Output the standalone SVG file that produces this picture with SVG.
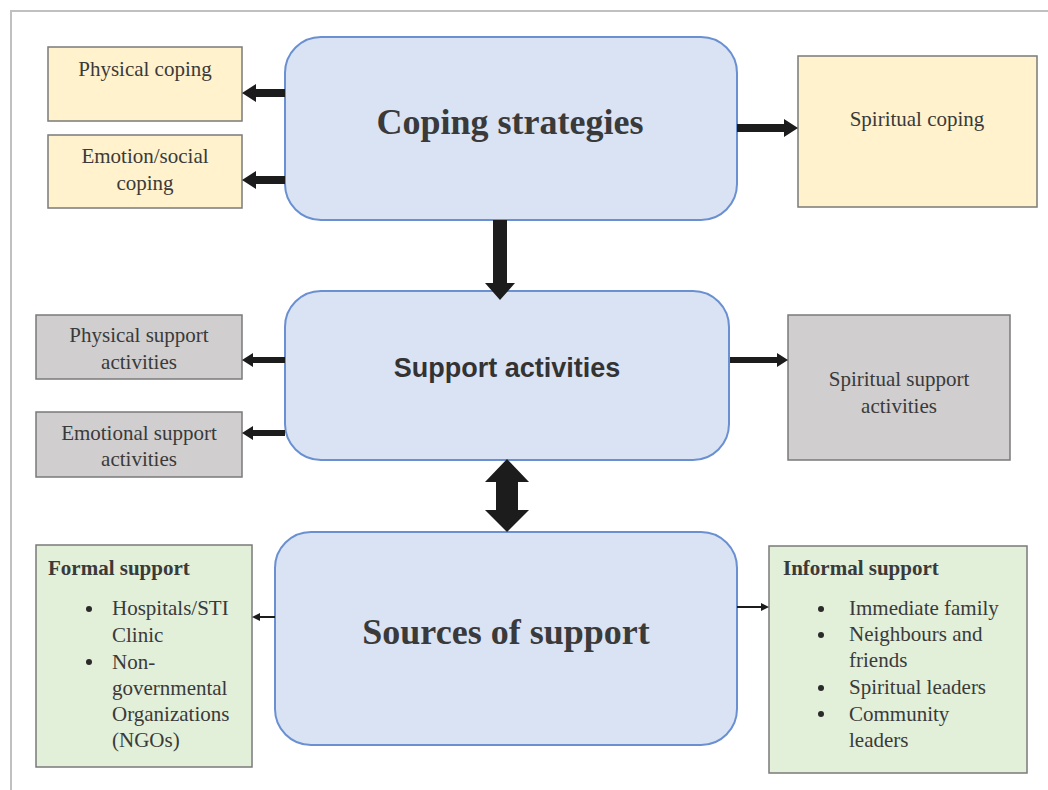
<svg xmlns="http://www.w3.org/2000/svg" width="1048" height="790" viewBox="0 0 1048 790">
<style>
.main{fill:#dae3f3;stroke:#6a90d2;stroke-width:2}
.yel{fill:#fff2cc;stroke:#7a7a7a;stroke-width:1.5}
.gry{fill:#d0cece;stroke:#7a7a7a;stroke-width:1.5}
.grn{fill:#e2efd9;stroke:#7a7a7a;stroke-width:1.5}
.t{font-family:"Liberation Serif","Times New Roman",serif;font-size:21px;fill:#3a3a3a}
.c{text-anchor:middle}
.b{font-weight:bold}
.big{font-family:"Liberation Serif","Times New Roman",serif;font-size:36px;font-weight:bold;fill:#3a3a3a;text-anchor:middle}
.sans{font-family:"Liberation Sans",Arial,sans-serif;font-size:27px;font-weight:bold;fill:#333;text-anchor:middle}
.arr{fill:#1c1c1c}
</style>
<rect width="1048" height="790" fill="#fff"/>
<path d="M11 790V11H1048" fill="none" stroke="#c0c0c0" stroke-width="2"/>

<g id="coping-strategies">
<rect class="main" x="285" y="37" width="452" height="183" rx="36"/>
<text class="big" x="510" y="134">Coping strategies</text>
</g>
<g id="physical-coping">
<rect class="yel" x="48" y="47" width="194" height="74"/>
<text class="t c" x="145" y="76">Physical coping</text>
</g>
<g id="emotion-social-coping">
<rect class="yel" x="48" y="135" width="194" height="73"/>
<text class="t c" x="145" y="163">Emotion/social</text>
<text class="t c" x="145" y="190">coping</text>
</g>
<g id="spiritual-coping">
<rect class="yel" x="798" y="56" width="239" height="151"/>
<text class="t c" x="917" y="126">Spiritual coping</text>
</g>

<g id="support-activities">
<rect class="main" x="285" y="291" width="444" height="169" rx="36"/>
<text class="sans" x="507" y="377">Support activities</text>
</g>
<g id="physical-support-activities">
<rect class="gry" x="36" y="315" width="206" height="64"/>
<text class="t c" x="139" y="342">Physical support</text>
<text class="t c" x="139" y="369">activities</text>
</g>
<g id="emotional-support-activities">
<rect class="gry" x="36" y="412" width="206" height="65"/>
<text class="t c" x="139" y="440">Emotional support</text>
<text class="t c" x="139" y="466">activities</text>
</g>
<g id="spiritual-support-activities">
<rect class="gry" x="788" y="315" width="222" height="145"/>
<text class="t c" x="899" y="386">Spiritual support</text>
<text class="t c" x="899" y="413">activities</text>
</g>

<g id="sources-of-support">
<rect class="main" x="275" y="532" width="462" height="213" rx="36" stroke="#9ab5e0"/>
<text class="big" x="506" y="644">Sources of support</text>
</g>
<g id="formal-support">
<rect class="grn" x="36" y="545" width="216" height="222"/>
<text class="t b" x="48" y="575">Formal support</text>
<g class="t">
<circle cx="89" cy="609" r="3" fill="#2a2a2a"/>
<circle cx="89" cy="662" r="3" fill="#2a2a2a"/>
<text x="112" y="615">Hospitals/STI</text>
<text x="112" y="642">Clinic</text>
<text x="112" y="669">Non-</text>
<text x="112" y="695">governmental</text>
<text x="112" y="721">Organizations</text>
<text x="112" y="747">(NGOs)</text>
</g>
</g>
<g id="informal-support">
<rect class="grn" x="769" y="546" width="258" height="227"/>
<text class="t b" x="783" y="575">Informal support</text>
<g class="t">
<circle cx="821" cy="609" r="3" fill="#2a2a2a"/>
<circle cx="821" cy="635" r="3" fill="#2a2a2a"/>
<circle cx="821" cy="688" r="3" fill="#2a2a2a"/>
<circle cx="821" cy="714" r="3" fill="#2a2a2a"/>
<text x="849" y="615">Immediate family</text>
<text x="849" y="641">Neighbours and</text>
<text x="849" y="667">friends</text>
<text x="849" y="694">Spiritual leaders</text>
<text x="849" y="721">Community</text>
<text x="849" y="747">leaders</text>
</g>
</g>

<g id="connectors" class="arr">
<polygon points="285,89 256,89 256,84 242,93 256,102 256,97 285,97"/>
<polygon points="285,176 256,176 256,171 242,180 256,189 256,184 285,184"/>
<polygon points="737,124 784,124 784,119 798,128 784,137 784,132 737,132"/>
<polygon points="493,220 507,220 507,283 515,283 500,300 485,283 493,283"/>
<polygon points="285,357 253,357 253,353 242,360 253,367 253,363 285,363"/>
<polygon points="285,430 253,430 253,426 242,433 253,440 253,436 285,436"/>
<polygon points="730,357 777,357 777,353 788,360 777,367 777,363 730,363"/>
<polygon points="507,459 529,482 518,482 518,510 529,510 507,532 485,510 496,510 496,482 485,482"/>
<polygon points="275,616 260,616 260,613 252,617 260,621 260,618 275,618"/>
<polygon points="737,606 761,606 761,603 769,607 761,611 761,608 737,608"/>
</g>
</svg>
